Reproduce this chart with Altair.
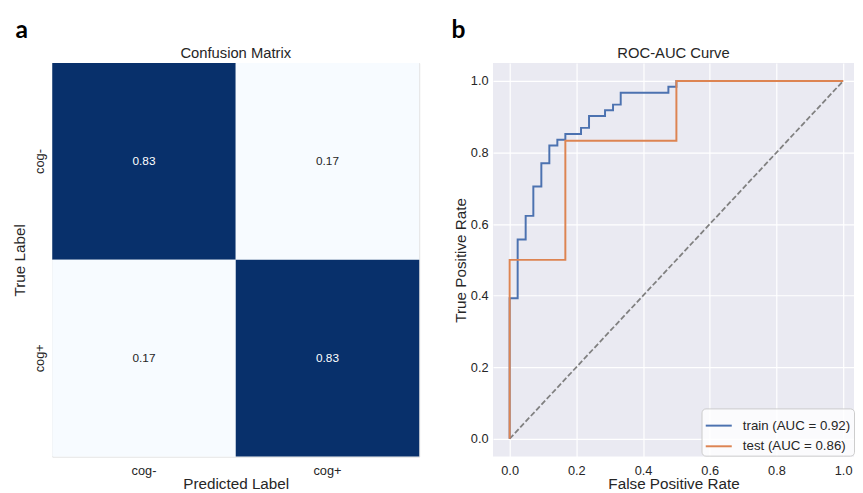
import altair as alt
import pandas as pd

# ---- Confusion matrix data ----
true_labels = ["cog-", "cog-", "cog+", "cog+"]
pred_labels = ["cog-", "cog+", "cog-", "cog+"]
cm_values = [0.83, 0.17, 0.17, 0.83]
class_order = ["cog-", "cog+"]

# ---- ROC data ----
train_fpr = [0, 0, 0.024, 0.024, 0.048, 0.048, 0.071, 0.071, 0.095, 0.095,
             0.119, 0.119, 0.143, 0.143, 0.167, 0.167, 0.214, 0.214, 0.238, 0.238,
             0.286, 0.286, 0.310, 0.310, 0.333, 0.333, 0.476, 0.476, 0.5, 0.5, 1.0]
train_tpr = [0, 0.393, 0.393, 0.557, 0.557, 0.623, 0.623, 0.705, 0.705, 0.770,
             0.770, 0.820, 0.820, 0.836, 0.836, 0.852, 0.852, 0.869, 0.869, 0.902,
             0.902, 0.918, 0.918, 0.934, 0.934, 0.967, 0.967, 0.984, 0.984, 1.0, 1.0]
test_fpr = [0, 0, 0.167, 0.167, 0.5, 0.5, 1.0]
test_tpr = [0, 0.5, 0.5, 0.833, 0.833, 1.0, 1.0]
series_names = ["train (AUC = 0.92)", "test (AUC = 0.86)"]
series_colors = ["#4C72B0", "#DD8452"]
diag_x = [0, 1]
diag_y = [0, 1]
roc_ticks = [0.0, 0.2, 0.4, 0.6, 0.8, 1.0]
panel_titles = ["Confusion Matrix", "ROC-AUC Curve"]
panel_letters = ["a", "b"]

FONT = "Liberation Sans"
TXT = "#262626"

cm_df = pd.DataFrame({"true": true_labels, "pred": pred_labels, "value": cm_values})

rows = []
for i, (f, t) in enumerate(zip(train_fpr, train_tpr)):
    rows.append({"fpr": f, "tpr": t, "series": series_names[0], "idx": i})
for i, (f, t) in enumerate(zip(test_fpr, test_tpr)):
    rows.append({"fpr": f, "tpr": t, "series": series_names[1], "idx": i})
roc_df = pd.DataFrame(rows)
diag_df = pd.DataFrame({"fpr": diag_x, "tpr": diag_y})

W_L, W_R, H = 373, 367, 400


def header(title, letter, width, letter_dx):
    t = alt.Chart(pd.DataFrame({"t": [title]})).mark_text(
        font=FONT, fontSize=15, color=TXT, align="center", baseline="alphabetic"
    ).encode(text="t:N", x=alt.value(width / 2), y=alt.value(-5))
    l = alt.Chart(pd.DataFrame({"t": [letter]})).mark_text(
        font="Lato", fontWeight="bold", fontSize=25, color="black",
        align="center", baseline="alphabetic"
    ).encode(text="t:N", x=alt.value(letter_dx), y=alt.value(-26))
    return t, l


# ---------- panel a ----------
cm_base = alt.Chart(cm_df)
cm_rect = cm_base.mark_rect().encode(
    x=alt.X("pred:N", sort=class_order, title="Predicted Label",
            axis=alt.Axis(labelAngle=0, labelFontSize=13, titleFontSize=15.5,
                          labelPadding=8, titleY=32, titleBaseline="alphabetic",
                          ticks=False, domain=False)),
    y=alt.Y("true:N", sort=class_order, title="True Label",
            axis=alt.Axis(labelAngle=-90, labelFontSize=13, titleFontSize=15.5,
                          labelPadding=6, titlePadding=6, ticks=False, domain=False,
                          labelBaseline="bottom", labelAlign="center")),
    color=alt.Color("value:Q", scale=alt.Scale(domain=[0.17, 0.83],
                                               range=["#F7FBFF", "#08306B"]),
                    legend=None),
)
cm_text = cm_base.mark_text(fontSize=12, font=FONT).encode(
    x=alt.X("pred:N", sort=class_order),
    y=alt.Y("true:N", sort=class_order),
    text=alt.Text("value:Q", format=".2f"),
    color=alt.condition(alt.datum.value > 0.5, alt.value("white"), alt.value(TXT)),
)
title_a, letter_a = header(panel_titles[0], panel_letters[0], W_L, -31)

panel_a = alt.layer(cm_rect, cm_text, title_a, letter_a).properties(width=W_L, height=H)

# ---------- panel b ----------
xs = alt.Scale(domain=[-0.05, 1.0326], nice=False, zero=False)
ys = alt.Scale(domain=[-0.05, 1.05], nice=False, zero=False)
axis_common = dict(grid=True, gridColor="white", gridWidth=1.2, domain=False,
                   ticks=False, tickSize=0, values=roc_ticks, format=".1f",
                   labelFontSize=13, titleFontSize=15.5, labelColor=TXT,
                   titleColor=TXT)

diag = alt.Chart(diag_df).mark_line(color="#808080", strokeDash=[5.5, 2.4],
                                     strokeWidth=1.8).encode(
    x=alt.X("fpr:Q", scale=xs, title="False Positive Rate",
            axis=alt.Axis(labelPadding=8, titleY=32, titleBaseline="alphabetic",
                          **axis_common)),
    y=alt.Y("tpr:Q", scale=ys, title="True Positive Rate",
            axis=alt.Axis(labelPadding=5, titlePadding=2, **axis_common)),
)
roc = alt.Chart(roc_df).mark_line(strokeWidth=2).encode(
    x=alt.X("fpr:Q", scale=xs),
    y=alt.Y("tpr:Q", scale=ys),
    order=alt.Order("idx:Q"),
    color=alt.Color("series:N", sort=series_names,
                    scale=alt.Scale(domain=series_names, range=series_colors),
                    legend=alt.Legend(title=None, orient="none", legendX=212, legendY=351,
                                      fillColor="rgba(255,255,255,0.8)", strokeColor="#cccccc",
                                      cornerRadius=4, padding=3, symbolType="stroke",
                                      symbolSize=700, symbolStrokeWidth=2,
                                      labelFontSize=13.5, labelFont=FONT, labelColor=TXT,
                                      rowPadding=-8, labelOffset=10)),
)
title_b, letter_b = header(panel_titles[1], panel_letters[1], W_R, -35)

panel_b = alt.layer(diag, roc, title_b, letter_b).properties(
    width=W_R, height=H,
    view=alt.ViewBackground(fill="#EAEAF2", stroke=None),
)

chart = alt.hconcat(panel_a, panel_b, spacing=75, bounds="flush").properties(
    padding={"left": 4, "top": 5, "right": 0, "bottom": 0}
).configure_view(
    stroke=None
).configure(
    font=FONT
).configure_axis(
    labelFont=FONT, titleFont=FONT, titleFontWeight="normal", labelColor=TXT,
    titleColor=TXT
)

chart.save("out.html", embed_options={"renderer": "svg", "actions": False})
